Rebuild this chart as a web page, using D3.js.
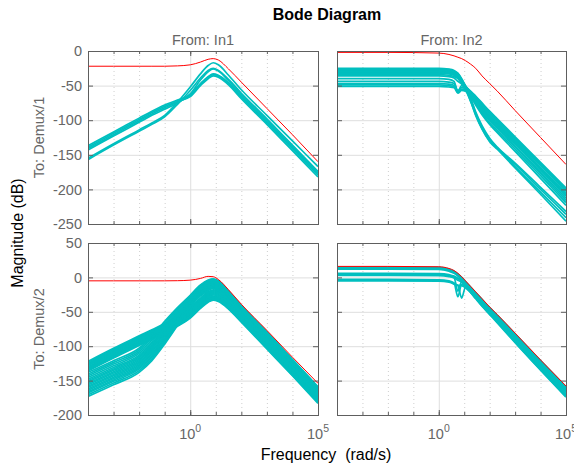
<!DOCTYPE html>
<html>
<head>
<meta charset="utf-8">
<script src="https://cdn.jsdelivr.net/npm/d3@7"></script>
<style>
    body { margin: 0; background: #fff; }
    svg text { font-family: "Liberation Sans", Arial, Helvetica, sans-serif; }
</style>
</head>
<body>
<div id="bode"></div>
<script>
    "use strict";

    // frequency grid (log10 of rad/s) the magnitudes were read at
    var gridLeft = [-4, -3, -2, -1.5, -1, -0.5, 0, 0.4, 0.7, 0.9, 1.1, 1.5, 2, 3, 4, 5];
    var gridRight = [-4, -2, 0, 0.4, 0.6, 0.75, 0.9, 1.05, 1.25, 1.45, 1.7, 2, 2.3, 3, 4, 5];

    // From In1 -> Demux/1 (dB)
    var in1Out1Nominal = [-22, -22, -22, -22, -22, -21.5, -20, -16, -12, -11, -13, -26, -45, -83, -121, -160];
    var in1Out1Samples = [
        [-155, -134, -114, -104, -93, -74, -52, -33, -21, -17, -20, -35, -56, -93, -130, -167],
        [-157, -136, -116, -106, -95, -77, -57, -39, -28, -25, -28, -41, -61, -98, -136, -174],
        [-137, -117, -97, -87, -78, -71, -63, -47, -37, -33, -35, -46, -65, -102, -139, -177],
        [-139, -119, -99, -89, -80, -73, -66, -50, -40, -36, -38, -49, -69, -106, -144, -182],
        [-141, -121, -101, -91, -82, -74, -64, -48, -38, -34, -36, -47, -67, -104, -141, -179],
        [-143, -123, -103, -93, -84, -75, -62, -42, -30, -26, -29, -43, -63, -100, -138, -176]
    ];

    // From In2 -> Demux/1 (dB)
    var in2Out1Nominal = [-2, -2, -3, -5, -7, -9, -11, -14, -19, -25, -36, -47, -58, -86, -125, -164];
    var in2Out1Samples = [
        [-25, -25, -25, -26, -28, -32, -40, -50, -58, -65, -75, -87, -98, -124, -161, -198],
        [-26, -26, -26, -27, -29, -33, -41, -51, -59, -66, -77, -89, -100, -126, -163, -200],
        [-26.5, -26.5, -26.5, -27.5, -29.5, -33.5, -41.5, -51, -59.5, -67, -78, -90, -101, -127, -164, -201.5],
        [-27, -27, -27, -28, -30, -34, -42, -51, -60, -68, -79, -91, -102, -128, -165, -203],
        [-28, -28, -28, -29, -31, -35, -43, -52, -61, -69, -81, -93, -104, -130, -168, -206],
        [-29, -29, -29, -30, -32, -36, -44, -52, -62, -70, -82, -95, -106, -132, -170, -208],
        [-30, -30, -30, -31, -33, -37, -44.5, -52.5, -62, -70.5, -83, -96, -107, -133, -171, -209],
        [-31, -31, -31, -32, -34, -38, -45, -53, -62, -71, -84, -97, -108, -134, -172, -210],
        [-32, -32, -32, -33, -35, -39, -46, -53, -63, -73, -86, -99, -110, -137, -175, -213],
        [-34, -34, -34, -35, -37, -40, -47, -54, -64, -74, -88, -101, -112, -139, -177, -216],
        [-36, -36, -36, -37, -39, -44, -48, -54, -65, -76, -90, -104, -115, -142, -180, -219],
        [-40, -40, -40, -41, -44, -58, -50, -55, -66, -78, -92, -106, -118, -145, -184, -223],
        [-44, -44, -44, -45, -47, -58, -53, -55, -68, -88, -108, -126, -139, -162, -197, -232],
        [-47, -47, -47, -48, -50, -60, -55, -56, -70, -90, -110, -128, -140, -164, -200, -236],
        [-49, -49, -49, -50, -52, -57, -56, -57, -72, -92, -112, -130, -141, -167, -204, -241],
        [-51, -51, -51, -52, -53, -61, -57, -58, -73, -93, -113, -131, -142, -169, -207, -246]
    ];

    // From In1 -> Demux/2 (dB)
    var in1Out2Nominal = [-5, -5, -5, -5, -5, -4.8, -4, -1.5, 1.5, 1, -3, -18, -39, -77, -116, -154];
    var in1Out2Samples = [
        [-122, -103, -85, -76, -67, -57, -44, -30, -21, -18, -20, -33, -53, -92, -131, -170],
        [-123.5, -104.5, -86.5, -77.5, -68.5, -58.5, -45.5, -31.5, -22.5, -19.5, -21.5, -34, -54, -93, -132, -171],
        [-125, -106, -88, -79, -70, -60, -47, -33, -24, -21, -23, -35, -55, -94, -133, -172],
        [-126, -107, -89, -80, -71, -61, -48.5, -34.5, -25.5, -22.5, -24.5, -36.5, -56, -95, -134, -173],
        [-127, -108, -90, -81, -72, -62, -50, -36, -27, -24, -26, -38, -57, -96, -135, -174],
        [-128.5, -109.5, -91.5, -82.5, -73.5, -63.5, -51.5, -37.5, -28.5, -25.5, -27.5, -39, -58, -97, -136, -175],
        [-130, -111, -93, -84, -75, -65, -53, -39, -30, -27, -29, -40, -59, -98, -137, -176],
        [-131, -112, -94, -85, -76, -66, -54, -40, -31, -28, -30, -41, -60, -99, -138, -177],
        [-132, -113, -95, -86, -77, -67, -55, -41, -32, -29, -31, -42, -61, -100, -139, -178],
        [-133, -114, -96, -87, -78, -68, -56, -42, -33, -30, -32, -43, -62, -101, -140, -179],
        [-134, -115, -97, -88, -79, -69, -57, -43, -34, -31, -33, -44, -63, -102, -141, -180],
        [-135, -116, -98, -89, -80, -70, -58, -44, -35, -32, -34, -45, -64, -103, -142, -181.5],
        [-136, -117, -99, -90, -81, -71, -59, -45, -36, -33, -35, -46, -65, -104, -143, -183],
        [-138, -121, -103, -86, -64, -44, -26, -11, -4, -2, -5, -20, -41, -79, -119, -159],
        [-140.5, -123.5, -105.5, -88.5, -66.5, -45.5, -27, -12, -5, -3, -6, -21, -42, -80, -120, -160],
        [-143, -126, -108, -91, -69, -47, -28, -13, -6, -4, -7, -22, -43, -81, -121, -161],
        [-145.5, -128.5, -110.5, -93.5, -71.5, -49, -29.5, -14, -7, -5, -8, -23, -44, -82, -122, -162],
        [-148, -131, -113, -96, -74, -51, -31, -15, -8, -6, -9, -24, -45, -83, -123, -163],
        [-150, -133, -115, -98, -76, -52.5, -32, -16, -9, -7, -10, -25, -46, -84, -124, -164],
        [-152, -135, -117, -100, -78, -54, -33, -17, -10, -8, -11, -26, -47, -85, -125, -165],
        [-154, -137, -119, -102, -80, -56, -34, -18, -11, -9, -12, -27, -47.5, -85.5, -125.5, -165.5],
        [-156, -139, -121, -104, -82, -58, -35, -19, -12, -10, -13, -28, -48, -86, -126, -166],
        [-158, -141, -123, -106, -84, -59.5, -36, -20, -13, -11, -14, -28.5, -48.5, -87, -126.5, -166.5],
        [-160, -143, -125, -108, -86, -61, -37, -21, -14, -12, -15, -29, -49, -88, -127, -167],
        [-162, -145, -127, -110, -88, -62.5, -38, -22, -15, -13, -16, -30, -50, -88.5, -128, -168],
        [-164, -147, -129, -112, -90, -64, -39, -23, -16, -14, -17, -31, -51, -89, -129, -169],
        [-166, -149, -131, -114, -91.5, -65.5, -40, -24, -17, -14.5, -17.5, -31.5, -51.5, -89.5, -129.5, -169.5],
        [-168, -151, -133, -116, -93, -67, -41, -25, -18, -15, -18, -32, -52, -90, -130, -170],
        [-170.5, -153.5, -135.5, -118.5, -95, -68.5, -42, -26, -18.5, -15.5, -18.5, -32.5, -52.5, -90.5, -130.5, -170.5],
        [-173, -156, -138, -121, -97, -70, -43, -27, -19, -16, -19, -33, -53, -91, -131, -171]
    ];

    // From In2 -> Demux/2 (dB)
    var in2Out2Nominal = [16, 16, 15.5, 13, 10, 6, 1, -5, -13, -21, -31, -43, -54, -81, -120, -158];
    var in2Out2Samples = [
        [15, 15, 14.5, 12, 9, 5, 0, -6, -14, -22, -32, -44, -55, -82, -121, -159],
        [14, 14, 13.5, 11, 8, 4, -1, -7, -15, -23, -33, -45, -56, -83, -122, -161],
        [13, 13, 12.5, 10, 7, 3, -2, -8, -16, -24, -34, -46, -57, -85, -124, -163],
        [12, 12, 11.5, 9, 6, 2, -3, -9, -17, -25, -35, -47, -58, -86, -125, -164],
        [6, 6, 5.5, 4, 2, -1, -4, -9, -16, -24, -35, -47, -58, -86, -126, -165],
        [5, 5, 4.5, 3, 1, -2, -5, -10, -17, -26, -36, -48, -60, -88, -128, -167],
        [4, 4, 3.5, 2, 0, -20, -6, -11, -18, -27, -37, -50, -61, -90, -130, -169],
        [3, 3, 2.5, 1, -1, -4, -7, -12, -20, -28, -39, -51, -63, -92, -132, -171],
        [-3, -3, -3.5, -5, -8, -28, -10, -13, -21, -30, -41, -53, -65, -94, -134, -173],
        [-4, -4, -4.5, -6, -10, -12, -30, -14, -22, -31, -42, -54, -66, -95, -135, -174],
        [-5, -5, -5.5, -7, -9, -11, -12, -15, -22, -30, -41, -53, -64, -93, -133, -172]
    ];

    var decadeExp = [-4, -3, -2, -1, 0, 1, 2, 3, 4, 5];
    var freqLabelExp = [0, 5];
    var magTicksTop = [0, -50, -100, -150, -200, -250];
    var magTicksBottom = [50, 0, -50, -100, -150, -200];
    var inputNames = ["From: In1", "From: In2"];
    var outputNames = ["To: Demux/1", "To: Demux/2"];

    var width = 574;
    var height = 467;
    var gray = "#666";
    var frameColor = "#5e5e5e";

    var svg = d3.select("#bode").append("svg")
        .attr("width", width)
        .attr("height", height);

    var colX = [
        d3.scaleLog().domain([1e-4, 1e5]).range([88, 318]),
        d3.scaleLog().domain([1e-4, 1e5]).range([337, 566])
    ];
    var rowY = [
        d3.scaleLinear().domain([-250, 0]).range([224, 51]),
        d3.scaleLinear().domain([-200, 50]).range([415, 243])
    ];
    var magTicks = [magTicksTop, magTicksBottom];

    var panels = [
        { col: 0, row: 0, grid: gridLeft, nominal: in1Out1Nominal, samples: in1Out1Samples },
        { col: 1, row: 0, grid: gridRight, nominal: in2Out1Nominal, samples: in2Out1Samples },
        { col: 0, row: 1, grid: gridLeft, nominal: in1Out2Nominal, samples: in1Out2Samples },
        { col: 1, row: 1, grid: gridRight, nominal: in2Out2Nominal, samples: in2Out2Samples }
    ];

    function styleAxis(sel) {
        sel.select(".domain").remove();
        sel.selectAll(".tick line").attr("stroke", frameColor);
        sel.selectAll(".tick text")
            .attr("fill", gray)
            .style("font-size", "14.5px");
    }

    var defs = svg.append("defs");

    panels.forEach(function (p, k) {
        var x = colX[p.col];
        var y = rowY[p.row];
        var x0 = x.range()[0], x1 = x.range()[1];
        var y0 = y.range()[1], y1 = y.range()[0];
        var g = svg.append("g").attr("class", "panel");

        defs.append("clipPath").attr("id", "clip" + k)
            .append("rect")
            .attr("x", x0).attr("y", y0)
            .attr("width", x1 - x0).attr("height", y1 - y0);

        // minor (dotted) decade grid
        g.selectAll(".minor")
            .data(decadeExp.filter(function (e) { return e > -4 && e < 5 && e !== 0; }))
            .enter().append("line")
            .attr("x1", function (e) { return x(Math.pow(10, e)) + 0.5; })
            .attr("x2", function (e) { return x(Math.pow(10, e)) + 0.5; })
            .attr("y1", y0).attr("y2", y1)
            .attr("stroke", "#cfcfcf")
            .attr("stroke-dasharray", "1,3");

        // major grid
        g.append("line")
            .attr("x1", x(1) + 0.5).attr("x2", x(1) + 0.5)
            .attr("y1", y0).attr("y2", y1)
            .attr("stroke", "#dedede");
        g.selectAll(".hgrid")
            .data(magTicks[p.row])
            .enter().append("line")
            .attr("x1", x0).attr("x2", x1)
            .attr("y1", function (d) { return y(d) + 0.5; })
            .attr("y2", function (d) { return y(d) + 0.5; })
            .attr("stroke", "#dedede");

        var line = d3.line()
            .x(function (d, i) { return x(Math.pow(10, p.grid[i])); })
            .y(function (d) { return y(d); })
            .curve(d3.curveMonotoneX);

        var plot = g.append("g").attr("clip-path", "url(#clip" + k + ")");
        plot.selectAll(".sample")
            .data(p.samples)
            .enter().append("path")
            .attr("d", line)
            .attr("fill", "none")
            .attr("stroke", "#00bfbf")
            .attr("stroke-width", 1.7);
        plot.append("path")
            .datum(p.nominal)
            .attr("d", line)
            .attr("fill", "none")
            .attr("stroke", "#ff0000")
            .attr("stroke-width", 1);

        // axes, ticks inward on all four sides
        var noLabel = function () { return ""; };
        g.append("g").attr("transform", "translate(" + x0 + ",0)")
            .call(d3.axisLeft(y).tickValues(magTicks[p.row])
                .tickSizeInner(-5).tickSizeOuter(0).tickPadding(6)
                .tickFormat(p.col === 0 ? function (d) { return String(d); } : noLabel))
            .call(styleAxis);
        g.append("g").attr("transform", "translate(" + x1 + ",0)")
            .call(d3.axisRight(y).tickValues(magTicks[p.row])
                .tickSizeInner(-5).tickSizeOuter(0).tickFormat(noLabel))
            .call(styleAxis);
        [[d3.axisBottom, y1], [d3.axisTop, y0]].forEach(function (a) {
            g.append("g").attr("transform", "translate(0," + a[1] + ")")
                .call(a[0](x).tickValues(decadeExp.map(function (e) { return Math.pow(10, e); }))
                    .tickSizeInner(-3).tickSizeOuter(0).tickFormat(noLabel))
                .call(styleAxis);
            g.append("g").attr("transform", "translate(0," + a[1] + ")")
                .call(a[0](x).tickValues(freqLabelExp.map(function (e) { return Math.pow(10, e); }))
                    .tickSizeInner(-5).tickSizeOuter(0).tickFormat(noLabel))
                .call(styleAxis);
        });

        g.append("rect")
            .attr("x", x0 + 0.5).attr("y", y0 + 0.5)
            .attr("width", x1 - x0).attr("height", y1 - y0)
            .attr("fill", "none")
            .attr("stroke", frameColor);

        if (p.row === 1) {
            var lab = g.selectAll(".xlab")
                .data(freqLabelExp)
                .enter().append("text")
                .attr("x", function (e) { return x(Math.pow(10, e)); })
                .attr("y", y1 + 24)
                .attr("text-anchor", "middle")
                .attr("fill", gray)
                .style("font-size", "14.5px");
            lab.append("tspan").text("10");
            lab.append("tspan")
                .attr("dy", -7)
                .style("font-size", "10.5px")
                .text(function (e) { return e; });
        }
        if (p.row === 0) {
            g.append("text")
                .attr("x", (x0 + x1) / 2)
                .attr("y", 44.5)
                .attr("text-anchor", "middle")
                .attr("fill", gray)
                .style("font-size", "14.5px")
                .text(inputNames[p.col]);
        }
        if (p.col === 0) {
            g.append("text")
                .attr("transform", "translate(44," + ((y0 + y1) / 2) + ") rotate(-90)")
                .attr("text-anchor", "middle")
                .attr("fill", gray)
                .style("font-size", "14.5px")
                .text(outputNames[p.row]);
        }
    });

    svg.append("text")
        .attr("x", 327)
        .attr("y", 19.5)
        .attr("text-anchor", "middle")
        .style("font-size", "16px")
        .style("font-weight", "bold")
        .text("Bode Diagram");

    svg.append("text")
        .attr("transform", "translate(23,233) rotate(-90)")
        .attr("text-anchor", "middle")
        .style("font-size", "16px")
        .text("Magnitude (dB)");

    svg.append("text")
        .attr("x", 326)
        .attr("y", 459.5)
        .attr("text-anchor", "middle")
        .style("font-size", "16px")
        .style("white-space", "pre")
        .text("Frequency  (rad/s)");
</script>
</body>
</html>
